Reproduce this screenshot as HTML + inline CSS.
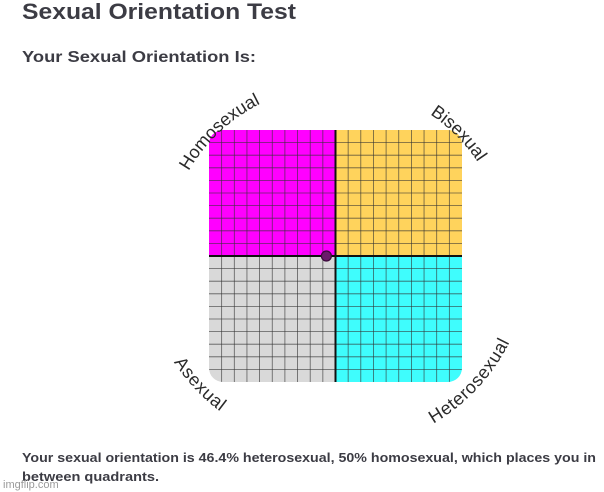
<!DOCTYPE html>
<html><head><meta charset="utf-8"><style>
html,body{margin:0;padding:0;background:#fff;}
svg{display:block;font-family:"Liberation Sans",sans-serif;}
</style></head><body>
<svg id="chart" width="604" height="492" viewBox="0 0 604 492">
<text x="22" y="19" font-size="22" font-weight="bold" fill="#3c3c44" textLength="274" lengthAdjust="spacingAndGlyphs">Sexual Orientation Test</text>
<text x="22" y="62" font-size="16" font-weight="bold" fill="#3c3c44" textLength="234" lengthAdjust="spacingAndGlyphs">Your Sexual Orientation Is:</text>
<defs>
<clipPath id="rc"><rect x="209" y="130" width="253" height="252" rx="14"/></clipPath>
<path id="topArc" d="M 166 256 A 170 170 0 0 1 506 256"/>
<path id="botArc" d="M 155 256 A 181 181 0 0 0 517 256"/>
</defs>
<g id="plot" clip-path="url(#rc)"></g>
<g font-size="18" fill="#2a2a2a">
<text><textPath href="#topArc" startOffset="26%" text-anchor="middle">Homosexual</textPath></text>
<text><textPath href="#topArc" startOffset="75%" text-anchor="middle">Bisexual</textPath></text>
<text><textPath href="#botArc" startOffset="24%" text-anchor="middle" dominant-baseline="hanging">Asexual</textPath></text>
<text><textPath href="#botArc" startOffset="76%" text-anchor="middle" dominant-baseline="hanging">Heterosexual</textPath></text>
</g>
<text x="22" y="462" font-size="13" font-weight="bold" fill="#3c3c44" textLength="574" lengthAdjust="spacingAndGlyphs">Your sexual orientation is 46.4% heterosexual, 50% homosexual, which places you in</text>
<text x="22" y="481" font-size="13" font-weight="bold" fill="#3c3c44" textLength="137" lengthAdjust="spacingAndGlyphs">between quadrants.</text>
<text x="3" y="488" font-size="11" fill="#9a9a9a">imgflip.com</text>
</svg>
<script>
const quadrantNames = ["homosexual","bisexual","asexual","heterosexual"];
const quadrantColors = ["#ff00ff","#ffd35c","#d9d9d9","#3ffdfd"];
const heteroPct = [46.4];
const homoPct = [50];
const gridDivisions = [10];

const svg = document.getElementById('plot');
const NS = 'http://www.w3.org/2000/svg';
const L = 209, T = 130, W = 253, H = 252;
const cx = L + W/2, cy = T + H/2;
function xScale(p){ return cx + (p - 50) / 50 * (W/2); }
function yScale(p){ return cy - (p - 50) / 50 * (H/2); }

const quads = [[L,T],[cx,T],[L,cy],[cx,cy]];
quadrantNames.forEach((n,i)=>{
  const r = document.createElementNS(NS,'rect');
  r.setAttribute('x',quads[i][0]); r.setAttribute('y',quads[i][1]);
  r.setAttribute('width',W/2); r.setAttribute('height',H/2);
  r.setAttribute('fill',quadrantColors[i]);
  
  
  svg.appendChild(r);
});
const n = gridDivisions[0]*2;
for(let k=1;k<n;k++){
  const gx = L + W*k/n, gy = T + H*k/n;
  const v = document.createElementNS(NS,'line');
  v.setAttribute('x1',gx); v.setAttribute('x2',gx); v.setAttribute('y1',T); v.setAttribute('y2',T+H);
  v.setAttribute('stroke','#333'); v.setAttribute('stroke-width','0.8'); v.setAttribute('opacity','0.75');
  
  
  svg.appendChild(v);
  const h = document.createElementNS(NS,'line');
  h.setAttribute('y1',gy); h.setAttribute('y2',gy); h.setAttribute('x1',L); h.setAttribute('x2',L+W);
  h.setAttribute('stroke','#333'); h.setAttribute('stroke-width','0.8'); h.setAttribute('opacity','0.75');
  
  
  svg.appendChild(h);
}
const ax = document.createElementNS(NS,'line');
ax.setAttribute('x1',cx); ax.setAttribute('x2',cx); ax.setAttribute('y1',T); ax.setAttribute('y2',T+H);
ax.setAttribute('stroke','#111'); ax.setAttribute('stroke-width','2');


svg.appendChild(ax);
const ay = document.createElementNS(NS,'line');
ay.setAttribute('y1',cy); ay.setAttribute('y2',cy); ay.setAttribute('x1',L); ay.setAttribute('x2',L+W);
ay.setAttribute('stroke','#111'); ay.setAttribute('stroke-width','2');


svg.appendChild(ay);
heteroPct.forEach((hp,i)=>{
  const c = document.createElementNS(NS,'circle');
  c.setAttribute('cx', xScale(hp)); c.setAttribute('cy', yScale(homoPct[i]));
  c.setAttribute('r', 5); c.setAttribute('fill','#6b1a6b'); c.setAttribute('stroke','#3a0a3a'); c.setAttribute('stroke-width','1.2');
  
  
  document.getElementById('chart').appendChild(c);
});
</script>
</body></html>
